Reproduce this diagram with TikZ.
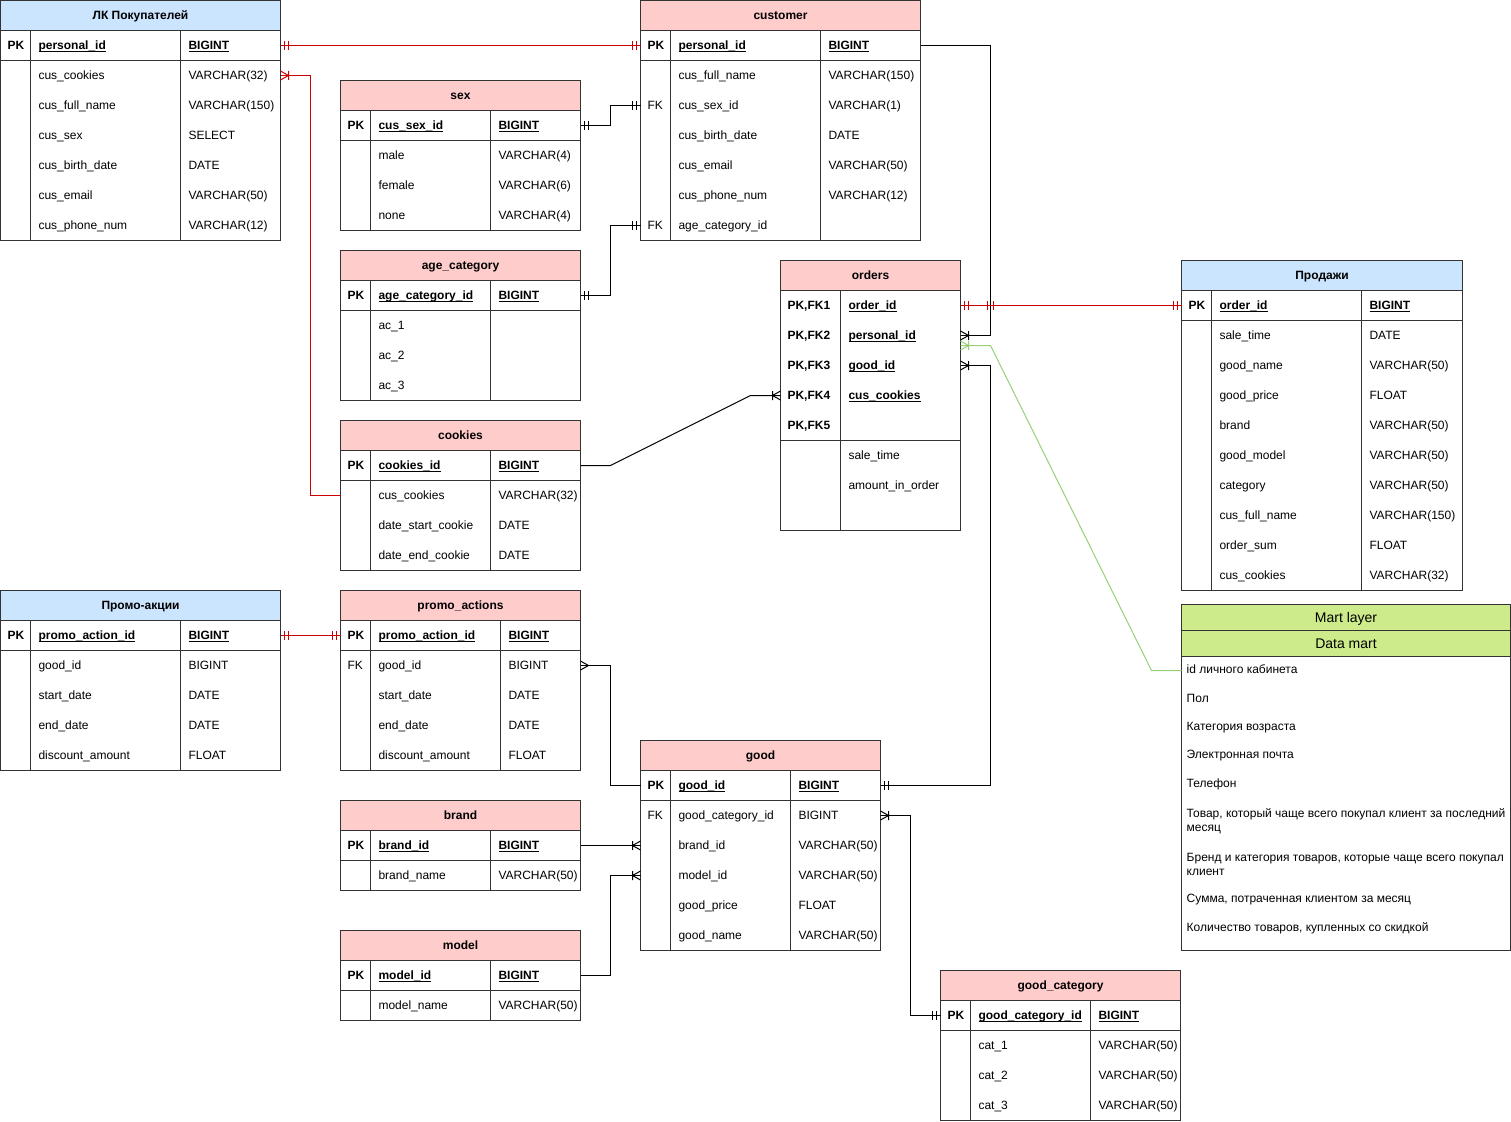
\documentclass[tikz,border=0pt]{standalone}
\usepackage{fontspec}
\setmainfont{Liberation Sans}
\definecolor{hdrpink}{HTML}{FFCCCC}
\definecolor{hdrblue}{HTML}{CCE5FF}
\definecolor{hdrgreen}{HTML}{CDEB8B}
\definecolor{relred}{HTML}{CC0000}
\definecolor{relgreen}{HTML}{97D077}
\definecolor{strokec}{HTML}{333333}
\tikzset{
  tbl/.style={draw=strokec, line width=1pt},
  rowbox/.style={inner sep=0pt, outer sep=0pt, minimum height=30pt},
  cell/.style={anchor=base west, inner sep=0pt, outer sep=0pt, font=\fontsize{12}{14}\selectfont},
  pkcell/.style={cell, font=\fontsize{12}{14}\selectfont\bfseries},
  ttl/.style={anchor=base, inner sep=0pt, font=\fontsize{12}{14}\selectfont\bfseries},
  martttl/.style={anchor=base, inner sep=0pt, font=\fontsize{14}{16}\selectfont},
  martitem/.style={anchor=west, inner sep=0pt, align=left, font=\fontsize{12}{14}\selectfont},
  rel/.style={line width=1pt},
}
\newcommand\myul[1]{\setbox0\hbox{#1}\rlap{\rule[-2pt]{\wd0}{0.8pt}}\box0}
% table frame: name, x, y, width, col1, col2, fill, body rows, title
\newcommand\ertab[9]{%
  \def\tx{#2}\def\ty{#3}\def\tw{#4}\def\tca{#5}\def\tcb{#6}%
  \filldraw[tbl, fill=#7] (#2,#3) rectangle ({#2+#4},{#3+30});
  \node[ttl] (#1t) at ({#2+#4/2},{#3+19}) {#9};
  \filldraw[tbl, fill=white] (#2,{#3+30}) rectangle ({#2+#4},{#3+30+30*#8});
  \draw[tbl] ({#2+#5},{#3+30}) -- ({#2+#5},{#3+30+30*#8});
  \ifx\tcb\empty\else\draw[tbl] ({#2+#6},{#3+30}) -- ({#2+#6},{#3+30+30*#8});\fi
}
\newcommand\ersep[1]{\draw[tbl] (\tx,{\ty+30+30*#1}) -- ({\tx+\tw},{\ty+30+30*#1});}
\newcommand\errow[5]{%
  \node[rowbox, minimum width=\tw pt] (#1#2) at ({\tx+\tw/2},{\ty+45+30*#2}) {};
  \node[cell] (#1#2a) at ({\tx+7},{\ty+49+30*#2}) {#3};
  \node[cell] (#1#2b) at ({\tx+\tca+8},{\ty+49+30*#2}) {#4};
  \ifx\tcb\empty\else\node[cell] (#1#2c) at ({\tx+\tcb+8},{\ty+49+30*#2}) {#5};\fi
}
\newcommand\erpk[5]{%
  \node[rowbox, minimum width=\tw pt] (#1#2) at ({\tx+\tw/2},{\ty+45+30*#2}) {};
  \node[pkcell] (#1#2a) at ({\tx+7},{\ty+49+30*#2}) {#3};
  \node[pkcell] (#1#2b) at ({\tx+\tca+8},{\ty+49+30*#2}) {\myul{#4}};
  \ifx\tcb\empty\else\node[pkcell] (#1#2c) at ({\tx+\tcb+8},{\ty+49+30*#2}) {\myul{#5}};\fi
}
% markers: anchor, direction (+1 right / -1 left), colour
\newcommand\mandone[3]{\draw[line width=1pt,draw=#3]
  ([xshift=#2*4pt,yshift=4.5pt]#1) -- ([xshift=#2*4pt,yshift=-4.5pt]#1)
  ([xshift=#2*8pt,yshift=4.5pt]#1) -- ([xshift=#2*8pt,yshift=-4.5pt]#1);}
\newcommand\crowbar[3]{\draw[line width=1pt,draw=#3]
  ([yshift=4.5pt]#1) -- ([xshift=#2*8pt]#1) -- ([yshift=-4.5pt]#1)
  ([xshift=#2*8pt,yshift=4.5pt]#1) -- ([xshift=#2*8pt,yshift=-4.5pt]#1);}
\newcommand\crow[3]{\draw[line width=1pt,draw=#3]
  ([yshift=4.5pt]#1) -- ([xshift=#2*8pt]#1) -- ([yshift=-4.5pt]#1);}
\newcommand\tick[3]{\draw[line width=1pt,draw=#3]
  ([xshift=#2pt,yshift=4.5pt]#1) -- ([xshift=#2pt,yshift=-4.5pt]#1);}
\begin{document}
\begin{tikzpicture}[x=1pt,y=-1pt]
\useasboundingbox (0,0) rectangle (1511,1121);
\begin{scope}[xshift=0.5pt,yshift=-0.5pt]
% ЛК Покупателей
\ertab{lk}{0}{0}{280}{30}{180}{hdrblue}{7}{ЛК Покупателей}
\ersep{1}
\erpk{lk}{0}{PK}{personal\_id}{BIGINT}
\errow{lk}{1}{}{cus\_cookies}{VARCHAR(32)}
\errow{lk}{2}{}{cus\_full\_name}{VARCHAR(150)}
\errow{lk}{3}{}{cus\_sex}{SELECT}
\errow{lk}{4}{}{cus\_birth\_date}{DATE}
\errow{lk}{5}{}{cus\_email}{VARCHAR(50)}
\errow{lk}{6}{}{cus\_phone\_num}{VARCHAR(12)}
% sex
\ertab{sex}{340}{80}{240}{30}{150}{hdrpink}{4}{sex}
\ersep{1}
\erpk{sex}{0}{PK}{cus\_sex\_id}{BIGINT}
\errow{sex}{1}{}{male}{VARCHAR(4)}
\errow{sex}{2}{}{female}{VARCHAR(6)}
\errow{sex}{3}{}{none}{VARCHAR(4)}
% customer
\ertab{cust}{640}{0}{280}{30}{180}{hdrpink}{7}{customer}
\ersep{1}
\erpk{cust}{0}{PK}{personal\_id}{BIGINT}
\errow{cust}{1}{}{cus\_full\_name}{VARCHAR(150)}
\errow{cust}{2}{FK}{cus\_sex\_id}{VARCHAR(1)}
\errow{cust}{3}{}{cus\_birth\_date}{DATE}
\errow{cust}{4}{}{cus\_email}{VARCHAR(50)}
\errow{cust}{5}{}{cus\_phone\_num}{VARCHAR(12)}
\errow{cust}{6}{FK}{age\_category\_id}{}
% age_category
\ertab{age}{340}{250}{240}{30}{150}{hdrpink}{4}{age\_category}
\ersep{1}
\erpk{age}{0}{PK}{age\_category\_id}{BIGINT}
\errow{age}{1}{}{ac\_1}{}
\errow{age}{2}{}{ac\_2}{}
\errow{age}{3}{}{ac\_3}{}
% cookies
\ertab{ck}{340}{420}{240}{30}{150}{hdrpink}{4}{cookies}
\ersep{1}
\erpk{ck}{0}{PK}{cookies\_id}{BIGINT}
\errow{ck}{1}{}{cus\_cookies}{VARCHAR(32)}
\errow{ck}{2}{}{date\_start\_cookie}{DATE}
\errow{ck}{3}{}{date\_end\_cookie}{DATE}
% orders
\ertab{ord}{780}{260}{180}{60}{}{hdrpink}{8}{orders}
\ersep{5}
\erpk{ord}{0}{PK,FK1}{order\_id}{}
\erpk{ord}{1}{PK,FK2}{personal\_id}{}
\erpk{ord}{2}{PK,FK3}{good\_id}{}
\erpk{ord}{3}{PK,FK4}{cus\_cookies}{}
\erpk{ord}{4}{PK,FK5}{}{}
\errow{ord}{5}{}{sale\_time}{}
\errow{ord}{6}{}{amount\_in\_order}{}
\errow{ord}{7}{}{}{}
% Продажи
\ertab{sal}{1181}{260}{281}{30}{180}{hdrblue}{10}{Продажи}
\ersep{1}
\erpk{sal}{0}{PK}{order\_id}{BIGINT}
\errow{sal}{1}{}{sale\_time}{DATE}
\errow{sal}{2}{}{good\_name}{VARCHAR(50)}
\errow{sal}{3}{}{good\_price}{FLOAT}
\errow{sal}{4}{}{brand}{VARCHAR(50)}
\errow{sal}{5}{}{good\_model}{VARCHAR(50)}
\errow{sal}{6}{}{category}{VARCHAR(50)}
\errow{sal}{7}{}{cus\_full\_name}{VARCHAR(150)}
\errow{sal}{8}{}{order\_sum}{FLOAT}
\errow{sal}{9}{}{cus\_cookies}{VARCHAR(32)}
% Промо-акции
\ertab{pr}{0}{590}{280}{30}{180}{hdrblue}{5}{Промо-акции}
\ersep{1}
\erpk{pr}{0}{PK}{promo\_action\_id}{BIGINT}
\errow{pr}{1}{}{good\_id}{BIGINT}
\errow{pr}{2}{}{start\_date}{DATE}
\errow{pr}{3}{}{end\_date}{DATE}
\errow{pr}{4}{}{discount\_amount}{FLOAT}
% promo_actions
\ertab{pa}{340}{590}{240}{30}{160}{hdrpink}{5}{promo\_actions}
\ersep{1}
\erpk{pa}{0}{PK}{promo\_action\_id}{BIGINT}
\errow{pa}{1}{FK}{good\_id}{BIGINT}
\errow{pa}{2}{}{start\_date}{DATE}
\errow{pa}{3}{}{end\_date}{DATE}
\errow{pa}{4}{}{discount\_amount}{FLOAT}
% good
\ertab{good}{640}{740}{240}{30}{150}{hdrpink}{6}{good}
\ersep{1}
\erpk{good}{0}{PK}{good\_id}{BIGINT}
\errow{good}{1}{FK}{good\_category\_id}{BIGINT}
\errow{good}{2}{}{brand\_id}{VARCHAR(50)}
\errow{good}{3}{}{model\_id}{VARCHAR(50)}
\errow{good}{4}{}{good\_price}{FLOAT}
\errow{good}{5}{}{good\_name}{VARCHAR(50)}
% brand
\ertab{br}{340}{800}{240}{30}{150}{hdrpink}{2}{brand}
\ersep{1}
\erpk{br}{0}{PK}{brand\_id}{BIGINT}
\errow{br}{1}{}{brand\_name}{VARCHAR(50)}
% model
\ertab{md}{340}{930}{240}{30}{150}{hdrpink}{2}{model}
\ersep{1}
\erpk{md}{0}{PK}{model\_id}{BIGINT}
\errow{md}{1}{}{model\_name}{VARCHAR(50)}
% good_category
\ertab{gc}{940}{970}{240}{30}{150}{hdrpink}{4}{good\_category}
\ersep{1}
\erpk{gc}{0}{PK}{good\_category\_id}{BIGINT}
\errow{gc}{1}{}{cat\_1}{VARCHAR(50)}
\errow{gc}{2}{}{cat\_2}{VARCHAR(50)}
\errow{gc}{3}{}{cat\_3}{VARCHAR(50)}
% Mart layer
\filldraw[tbl, fill=hdrgreen] (1181,604) rectangle (1510,630);
\node[martttl] (martl) at (1345.5,622) {Mart layer};
\filldraw[tbl, fill=hdrgreen] (1181,630) rectangle (1510,656);
\node[martttl] (dmart) at (1345.5,648) {Data mart};
\filldraw[tbl, fill=white] (1181,656) rectangle (1510,950);
\node[martitem] (m1) at (1186,669) {id личного кабинета};
\node[martitem] (m2) at (1186,698) {Пол};
\node[martitem] (m3) at (1186,727) {Категория возраста};
\node[martitem] (m4) at (1186,755) {Электронная почта};
\node[martitem] (m5) at (1186,784) {Телефон};
\node[martitem] (m6) at (1186,820.5) {Товар, который чаще всего покупал клиент за последний\\месяц};
\node[martitem] (m7) at (1186,863.5) {Бренд и категория товаров, которые чаще всего покупал\\клиент};
\node[martitem] (m8) at (1186,899) {Сумма, потраченная клиентом за месяц};
\node[martitem] (m9) at (1186,928) {Количество товаров, купленных со скидкой};
\coordinate (martin) at (1181,670);
% connectors
\draw[rel, draw=relred] (lk0.east) -- (cust0.west);
\mandone{lk0.east}{1}{relred}
\mandone{cust0.west}{-1}{relred}
\draw[rel, draw=relred] (lk1.east) -- ++(30,0) |- (ck1.west);
\crowbar{lk1.east}{1}{relred}
\draw[rel] (sex0.east) -- ++(30,0) |- (cust2.west);
\mandone{sex0.east}{1}{black}
\mandone{cust2.west}{-1}{black}
\draw[rel] (age0.east) -- ++(30,0) |- (cust6.west);
\mandone{age0.east}{1}{black}
\mandone{cust6.west}{-1}{black}
\draw[rel] (ck0.east) -- ++(30,0) -- ([xshift=-30pt]ord3.west) -- (ord3.west);
\crowbar{ord3.west}{-1}{black}
\draw[rel] (cust0.east) -- ++(70,0) |- (ord1.east);
\crowbar{ord1.east}{1}{black}
\coordinate (ordg) at ([yshift=-10pt]ord1.east);
\draw[rel, draw=relgreen] (ordg) -- ++(30,0) -- ([xshift=-30pt]martin) -- (martin);
\crowbar{ordg}{1}{relgreen}
\draw[rel] (good0.east) -- ++(110,0) |- (ord2.east);
\mandone{good0.east}{1}{black}
\crowbar{ord2.east}{1}{black}
\draw[rel, draw=relred] (ord0.east) -- (sal0.west);
\mandone{ord0.east}{1}{relred}
\mandone{sal0.west}{-1}{relred}
\tick{ord0.east}{27}{relred}
\tick{ord0.east}{33}{relred}
\draw[rel, draw=relred] (pr0.east) -- (pa0.west);
\mandone{pr0.east}{1}{relred}
\mandone{pa0.west}{-1}{relred}
\draw[rel] (pa1.east) -- ++(30,0) |- (good0.west);
\crow{pa1.east}{1}{black}
\draw[rel] (br0.east) -- (good2.west);
\crowbar{good2.west}{-1}{black}
\draw[rel] (md0.east) -- ++(30,0) |- (good3.west);
\crowbar{good3.west}{-1}{black}
\draw[rel] (good1.east) -- ++(30,0) |- (gc0.west);
\crowbar{good1.east}{1}{black}
\mandone{gc0.west}{-1}{black}
\end{scope}
\end{tikzpicture}
\end{document}
